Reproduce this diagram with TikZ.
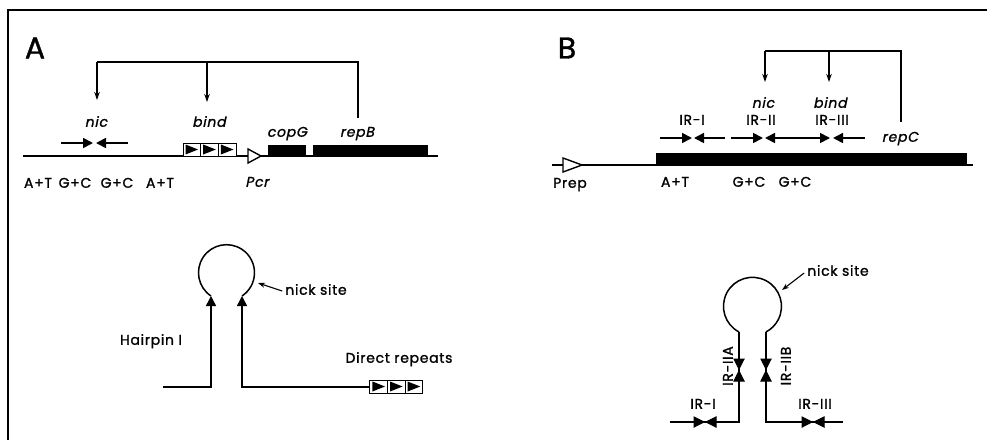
\documentclass[tikz,border=0pt]{standalone}
\usepackage{fontspec}
\setmainfont{Poppins}[LetterSpace=5,FakeBold=1.2]
\newfontfamily\slfont{Poppins}[FakeSlant=0.2,LetterSpace=5,FakeBold=1.2]
\usetikzlibrary{arrows.meta, calc}
\tikzset{
  frame/.style={line width=1.3pt},
  dna/.style={line width=2.3pt},
  bracket/.style={line width=1.2pt},
  brarrow/.style={bracket, -{Stealth[length=8pt,width=5.5pt]}},
  irarrow/.style={line width=1.7pt, -{Triangle[length=10pt,width=10pt]}},
  irtip/.style={line width=1pt, -{Triangle[length=11.5pt,width=11.5pt]}},
  stem/.style={line width=1.5pt},
  stemarrow/.style={stem, -{Triangle[length=10pt,width=10pt]}},
  lbl/.style={inner sep=0pt, text height=9.5pt, text depth=0pt, font=\fontsize{14}{16}\selectfont},
  gname/.style={lbl, font=\fontsize{14}{16}\selectfont\slfont},
  panel/.style={inner sep=0pt, font=\fontsize{30}{33}\selectfont},
  cell/.style={draw, line width=1pt, minimum width=17.6pt, minimum height=13pt, inner sep=0pt},
  gene/.style={fill=black},
  promoter/.style={draw, line width=1.4pt, fill=white},
  nickarrow/.style={line width=1.1pt, -{Stealth[length=7pt,width=5pt]}},
}

\begin{document}
\begin{tikzpicture}[x=1pt, y=-1pt]
\useasboundingbox (0,0) rectangle (987,440);
\draw[frame] (987,10) -- (8,10) -- (8,440);

% panel A, map
\node[panel] (labA) at (35,48) {A};
\coordinate (brA1) at (97,62);
\coordinate (brA2) at (207,62);
\coordinate (brA3) at (358,62);
\coordinate (repBtop) at (358,118);
\draw[bracket] (brA1) -- (brA3) -- (repBtop);
\draw[brarrow] (brA1) -- (97,100);
\draw[brarrow] (brA2) -- (207,102);
\node[gname] (nicA) at (96,122) {nic};
\node[gname] (bindA) at (209,122) {bind};
\node[gname] (copG) at (287,132) {copG};
\node[gname] (repB) at (357,132) {repB};

\draw[dna] (23,156) -- (438,156);
\draw[irarrow] (61,143) -- (93,143);
\draw[irarrow] (128,143) -- (96,143);
\foreach \cx [count=\i] in {191.8,209.5,227.2} {
  \node[cell, fill=white] (bd\i) at (\cx,149.5) {};
  \fill ($(bd\i.north west)+(3,2)$) -- ($(bd\i.east)+(-3,0)$) -- ($(bd\i.south west)+(3,-2)$) -- cycle;
}
\draw[promoter] (248,149) -- (261,156) -- (248,163) -- cycle;
\fill[gene] (268,145) rectangle (306,157);
\fill[gene] (313,145) rectangle (428,157);
\node[gname] (Pcr) at (257,182) {Pcr};
\node[lbl] (at1) at (38,183) {A+T};
\node[lbl] (gc1) at (75,183) {G+C};
\node[lbl] (gc2) at (117,183) {G+C};
\node[lbl] (at2) at (160,183) {A+T};

% panel A, hairpin
\draw[stem] (211,296) arc[start angle=236.4, end angle=-56.4, radius=28pt];
\draw[stemarrow] (163,387) -- (211,387) -- (211,296);
\draw[stemarrow] (370,387) -- (242,387) -- (242,296);
\foreach \cx [count=\i] in {378.7,396.3,413.9} {
  \node[cell, fill=white] (dr\i) at (\cx,386.5) {};
  \fill ($(dr\i.north west)+(3,2)$) -- ($(dr\i.east)+(-3,0)$) -- ($(dr\i.south west)+(3,-2)$) -- cycle;
}
\node[lbl] (hpA) at (151,340) {Hairpin I};
\node[lbl] (drA) at (399,358) {Direct repeats};
\node[lbl] (nickA) at (316,290) {nick site};
\draw[nickarrow] (nickA.west) ++(-3,1) -- (258,283);

% panel B, map
\node[panel] (labB) at (567,48) {B};
\coordinate (brB1) at (765,51);
\coordinate (brB2) at (829,51);
\coordinate (brB3) at (901,51);
\coordinate (repCtop) at (901,122);
\draw[bracket] (brB1) -- (brB3) -- (repCtop);
\draw[brarrow] (brB1) -- (765,82);
\draw[brarrow] (brB2) -- (829,82);
\node[gname] (nicB) at (763,103) {nic};
\node[gname] (bindB) at (830,103) {bind};
\node[lbl] (ir1) at (692,120) {IR-I};
\node[lbl] (ir2) at (761,120) {IR-II};
\node[lbl] (ir3) at (832,120) {IR-III};
\node[gname] (repC) at (900,137) {repC};

\draw[irarrow] (660,138) -- (692,138);
\draw[irarrow] (725,138) -- (694,138);
\draw[irarrow] (731,138) -- (763,138);
\draw[line width=1.7pt, {Triangle[length=10pt,width=10pt]}-{Triangle[length=10pt,width=10pt]}] (765,138) -- (830,138);
\draw[irarrow] (865,138) -- (833,138);

\draw[dna] (552,165) -- (973,165);
\fill[gene] (656,153) rectangle (967,166);
\draw[promoter] (563,158) -- (582,165) -- (563,172) -- cycle;
\node[lbl] (Prep) at (570,183) {Prep};
\node[lbl] (at3) at (675,182) {A+T};
\node[lbl] (gc3) at (749,182) {G+C};
\node[lbl] (gc4) at (795,182) {G+C};

% panel B, hairpin
\draw[stem] (739,332) arc[start angle=242.3, end angle=-62.3, radius=29pt];
\draw[stem] (670,422) -- (739,422) -- (739,332);
\draw[stem] (843,422) -- (766,422) -- (766,332);
\draw[irtip] (739,357) -- (739,370);
\draw[irtip] (739,383) -- (739,370);
\draw[irtip] (766,357) -- (766,370);
\draw[irtip] (766,383) -- (766,370);
\draw[irtip] (692,422) -- (705,422);
\draw[irtip] (718,422) -- (705,422);
\draw[irtip] (800,422) -- (813,422);
\draw[irtip] (826,422) -- (813,422);
\node[lbl, rotate=90] (ir2a) at (728,366) {IR-IIA};
\node[lbl, rotate=90] (ir2b) at (786,366) {IR-IIB};
\node[lbl] (ir1b) at (703,404) {IR-I};
\node[lbl] (ir3b) at (815,404) {IR-III};
\node[lbl] (nickB) at (838,271) {nick site};
\draw[nickarrow] (nickB.west) ++(-3,2) -- (782,290);
\end{tikzpicture}
\end{document}
